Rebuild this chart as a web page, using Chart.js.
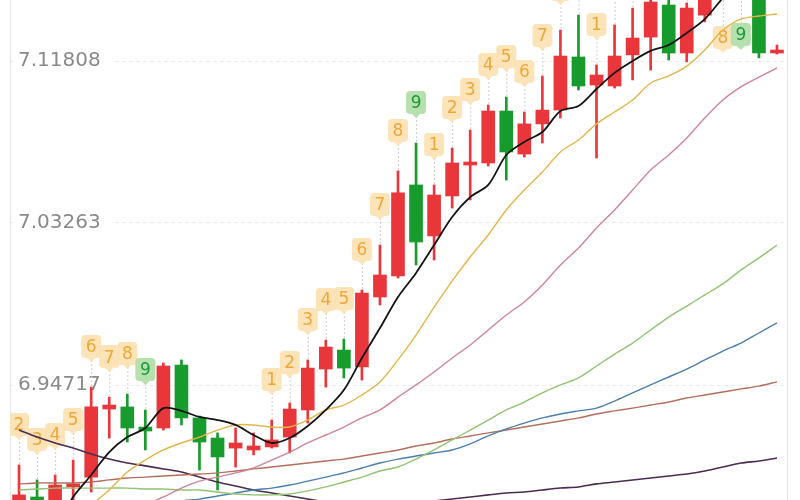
<!DOCTYPE html>
<html>
<head>
<meta charset="utf-8">
<script src="https://cdn.jsdelivr.net/npm/chart.js@4.4.1/dist/chart.umd.min.js"></script>
<style>
  html, body { margin: 0; padding: 0; background: #fff; }
  #wrap { width: 800px; height: 500px; }
</style>
</head>
<body>
<div id="wrap"><canvas id="chart" width="800" height="500"></canvas></div>
<script>
// candles, oldest first
const opens  = [6.8812, 6.8881, 6.8839, 6.8934, 6.8986, 6.9345, 6.9356, 6.9250, 6.9245, 6.9577, 6.9298, 6.9192, 6.9139, 6.9129, 6.9145, 6.9197, 6.9340, 6.9556, 6.9656, 6.9567, 6.9936, 7.0047, 7.0527, 7.0258, 7.0469, 7.0632, 7.0643, 7.0917, 7.0690, 7.0849, 7.0922, 7.1202, 7.1054, 7.1049, 7.1213, 7.1307, 7.1476, 7.1223, 7.1423, 7.1582, 7.1714, 7.1661, 7.1223];
const closes = [6.8892, 6.8812, 6.8944, 6.8950, 6.9356, 6.9366, 6.9245, 6.9229, 6.9572, 6.9298, 6.9171, 6.9092, 6.9166, 6.9150, 6.9182, 6.9345, 6.9561, 6.9672, 6.9561, 6.9957, 7.0052, 7.0485, 7.0226, 7.0474, 7.0643, 7.0648, 7.0917, 7.0701, 7.0849, 7.0922, 7.1207, 7.1049, 7.1107, 7.1207, 7.1302, 7.1492, 7.1223, 7.1460, 7.1555, 7.1714, 7.1566, 7.1223, 7.1234];
const highs  = [6.9050, 6.8971, 6.8997, 6.9076, 6.9461, 6.9408, 6.9424, 6.9340, 6.9588, 6.9604, 6.9308, 6.9219, 6.9245, 6.9219, 6.9287, 6.9377, 6.9604, 6.9709, 6.9714, 6.9973, 7.0210, 7.0601, 7.0748, 7.0527, 7.0722, 7.0817, 7.0949, 7.0991, 7.0912, 7.1102, 7.1344, 7.1423, 7.1160, 7.1371, 7.1460, 7.1529, 7.1518, 7.1487, 7.1608, 7.1766, 7.1793, 7.1714, 7.1265];
const lows   = [6.8786, 6.8786, 6.8812, 6.8839, 6.8907, 6.9192, 6.9171, 6.9129, 6.9234, 6.9261, 6.9023, 6.8918, 6.9039, 6.9103, 6.9139, 6.9113, 6.9271, 6.9461, 6.9509, 6.9498, 6.9894, 7.0036, 7.0105, 7.0131, 7.0405, 7.0448, 7.0627, 7.0553, 7.0674, 7.0748, 7.0880, 7.1028, 7.0669, 7.1038, 7.1081, 7.1133, 7.1186, 7.1176, 7.1387, 7.1513, 7.1529, 7.1197, 7.1218];

// TD sequential counts shown above the candles
const tdCount = ['2','3','4','5','6','7','8','9','','','','','','','1','2','3','4','5','6','7','8','9','1','2','3','4','5','6','7','8','9','1','2','3','4','5','6','7','8','9','',''];

// moving averages
const ma5   = [null, null, 6.8707, 6.8881, 6.8997, 6.9118, 6.9197, 6.9245, 6.9350, 6.9335, 6.9303, 6.9287, 6.9261, 6.9208, 6.9166, 6.9192, 6.9255, 6.9340, 6.9445, 6.9614, 6.9772, 6.9936, 7.0063, 7.0210, 7.0358, 7.0463, 7.0527, 7.0685, 7.0754, 7.0806, 7.0917, 7.0943, 7.1033, 7.1118, 7.1181, 7.1234, 7.1265, 7.1329, 7.1402, 7.1513, 7.1608, 7.1661, 7.1703];
const ma10  = [null, null, null, null, 6.8839, 6.8918, 6.9013, 6.9076, 6.9129, 6.9166, 6.9197, 6.9234, 6.9261, 6.9261, 6.9250, 6.9250, 6.9287, 6.9340, 6.9366, 6.9419, 6.9488, 6.9604, 6.9735, 6.9883, 7.0020, 7.0147, 7.0263, 7.0395, 7.0500, 7.0595, 7.0701, 7.0764, 7.0849, 7.0912, 7.0975, 7.1065, 7.1102, 7.1154, 7.1239, 7.1344, 7.1402, 7.1418, 7.1429];
const ma20  = [null, null, null, null, null, null, null, 6.8839, 6.8881, 6.8928, 6.8965, 6.8986, 6.9008, 6.9034, 6.9076, 6.9118, 6.9166, 6.9208, 6.9250, 6.9298, 6.9340, 6.9408, 6.9472, 6.9540, 6.9614, 6.9683, 6.9762, 6.9841, 6.9910, 6.9999, 7.0105, 7.0194, 7.0300, 7.0395, 7.0500, 7.0606, 7.0685, 7.0775, 7.0880, 7.0975, 7.1044, 7.1096, 7.1144];
const ma30  = [6.8918, 6.8923, 6.8928, 6.8928, 6.8928, 6.8928, 6.8928, 6.8923, 6.8923, 6.8918, 6.8918, 6.8907, 6.8897, 6.8892, 6.8892, 6.8897, 6.8913, 6.8934, 6.8960, 6.8986, 6.9018, 6.9039, 6.9081, 6.9129, 6.9182, 6.9234, 6.9287, 6.9340, 6.9382, 6.9430, 6.9472, 6.9509, 6.9572, 6.9635, 6.9693, 6.9762, 6.9830, 6.9888, 6.9947, 7.0005, 7.0078, 7.0142, 7.0210];
const ma60  = [null, null, null, null, null, null, null, null, 6.8844, 6.8860, 6.8870, 6.8886, 6.8902, 6.8918, 6.8928, 6.8944, 6.8965, 6.8986, 6.9008, 6.9034, 6.9060, 6.9081, 6.9097, 6.9113, 6.9129, 6.9161, 6.9203, 6.9240, 6.9271, 6.9298, 6.9319, 6.9335, 6.9350, 6.9387, 6.9430, 6.9472, 6.9514, 6.9556, 6.9604, 6.9651, 6.9693, 6.9746, 6.9799];
const ma120 = [6.8950, 6.8955, 6.8955, 6.8955, 6.8960, 6.8971, 6.8981, 6.8986, 6.8992, 6.8997, 6.9002, 6.9008, 6.9018, 6.9029, 6.9039, 6.9050, 6.9060, 6.9071, 6.9081, 6.9097, 6.9113, 6.9129, 6.9150, 6.9166, 6.9187, 6.9203, 6.9219, 6.9234, 6.9250, 6.9266, 6.9282, 6.9298, 6.9319, 6.9335, 6.9350, 6.9366, 6.9382, 6.9403, 6.9419, 6.9435, 6.9451, 6.9466, 6.9488];
const ma250 = [6.9234, 6.9197, 6.9166, 6.9139, 6.9108, 6.9081, 6.9060, 6.9045, 6.9029, 6.9013, 6.8986, 6.8960, 6.8939, 6.8918, 6.8902, 6.8886, 6.8870, 6.8855, 6.8844, 6.8839, 6.8839, 6.8844, 6.8849, 6.8860, 6.8870, 6.8881, 6.8892, 6.8902, 6.8907, 6.8918, 6.8928, 6.8934, 6.8950, 6.8960, 6.8971, 6.8981, 6.8992, 6.9002, 6.9018, 6.9039, 6.9060, 6.9071, 6.9087];

// price axis
const yTicks = [6.94717, 7.03263, 7.11808];
const yMin = 6.88651;
const yMax = 7.15026;

const UP = '#e8363b';
const DOWN = '#169b2c';

const days = opens.map((_, i) => String(i + 1));
const candleColors = opens.map((o, i) => closes[i] >= o ? UP : DOWN);

const tdPlugin = {
    id: 'tdCount',
    beforeDatasetsDraw(chart) {
        const { ctx, chartArea, scales: { x, y } } = chart;
        ctx.save();
        ctx.beginPath();
        ctx.rect(chartArea.left, chartArea.top, chartArea.right - chartArea.left, chartArea.bottom - chartArea.top);
        ctx.clip();
        ctx.font = '17px "DejaVu Sans"';
        ctx.textAlign = 'center';
        ctx.textBaseline = 'middle';
        tdCount.forEach((n, i) => {
            if (!n) {
                return;
            }
            const cx = x.getPixelForValue(i);
            const yHigh = y.getPixelForValue(highs[i]);
            const yLow = y.getPixelForValue(lows[i]);
            // candle above the visible range: the badge hangs below it
            const below = yLow < chartArea.top;
            const cy = below ? yLow + 40 : yHigh - 40;

            ctx.setLineDash([2, 2]);
            ctx.strokeStyle = '#cfcfcf';
            ctx.lineWidth = 1;
            ctx.beginPath();
            if (below) {
                ctx.moveTo(cx + 0.5, cy - 12);
                ctx.lineTo(cx + 0.5, yLow);
            } else {
                ctx.moveTo(cx + 0.5, cy + 13);
                ctx.lineTo(cx + 0.5, yHigh);
            }
            ctx.stroke();
            ctx.setLineDash([]);

            const nine = n === '9';
            ctx.fillStyle = nine ? 'rgba(176, 222, 168, 0.92)' : 'rgba(253, 225, 178, 0.92)';
            ctx.beginPath();
            ctx.roundRect(cx - 10, cy - 12, 20, 23, 4);
            ctx.fill();
            ctx.beginPath();
            ctx.moveTo(cx - 4, cy + 11);
            ctx.lineTo(cx, cy + 15);
            ctx.lineTo(cx + 4, cy + 11);
            ctx.fill();

            ctx.fillStyle = nine ? '#1b9a36' : '#f0a73a';
            ctx.fillText(n, cx, cy + 1);
        });
        ctx.restore();
    }
};

const framePlugin = {
    id: 'frame',
    beforeDatasetsDraw(chart) {
        const { ctx, chartArea } = chart;
        ctx.save();
        ctx.strokeStyle = '#e6e6e6';
        ctx.lineWidth = 1;
        ctx.beginPath();
        ctx.moveTo(chartArea.left + 0.5, chartArea.top);
        ctx.lineTo(chartArea.left + 0.5, chartArea.bottom);
        ctx.moveTo(chartArea.right + 1.5, chartArea.top);
        ctx.lineTo(chartArea.right + 1.5, chartArea.bottom);
        ctx.stroke();
        ctx.restore();
    }
};

function maLine(label, data, color, width, order) {
    return {
        type: 'line',
        label: label,
        data: data,
        borderColor: color,
        borderWidth: width,
        pointRadius: 0,
        tension: 0.3,
        fill: false,
        order: order
    };
}

new Chart(document.getElementById('chart'), {
    type: 'bar',
    data: {
        labels: days,
        datasets: [
            maLine('MA5', ma5, '#141414', 1.8, 0),
            maLine('MA10', ma10, '#e4b548', 1.4, 1),
            maLine('MA20', ma20, '#cf8597', 1.4, 1),
            maLine('MA30', ma30, '#91c472', 1.4, 1),
            maLine('MA60', ma60, '#4c7fae', 1.4, 1),
            maLine('MA120', ma120, '#b3705e', 1.4, 1),
            maLine('MA250', ma250, '#4b2b52', 1.6, 1),
            {
                label: 'body',
                data: opens.map((o, i) => [o, closes[i]]),
                backgroundColor: candleColors,
                barThickness: 13,
                minBarLength: 3,
                grouped: false,
                order: 2
            },
            {
                label: 'wick',
                data: lows.map((l, i) => [l, highs[i]]),
                backgroundColor: candleColors,
                barThickness: 2,
                grouped: false,
                order: 3
            }
        ]
    },
    options: {
        responsive: false,
        animation: false,
        layout: { padding: { left: 10, right: 14, top: 0, bottom: 0 } },
        plugins: {
            legend: { display: false },
            tooltip: { enabled: false }
        },
        scales: {
            x: { display: false },
            y: {
                min: yMin,
                max: yMax,
                afterFit(scale) {
                    // labels sit inside the plot, so the axis takes no room
                    scale.width = 0;
                    scale.paddingTop = 0;
                    scale.paddingBottom = 0;
                },
                afterBuildTicks(scale) {
                    scale.ticks = yTicks.map(v => ({ value: v }));
                },
                grid: { color: '#ebebeb', drawTicks: false },
                border: { display: false, dash: [4, 3] },
                ticks: {
                    mirror: true,
                    padding: 8,
                    color: '#8a8a8a',
                    font: { family: 'DejaVu Sans', size: 20 },
                    callback: v => v.toFixed(5),
                    showLabelBackdrop: true,
                    backdropColor: '#ffffff',
                    backdropPadding: { top: 2, bottom: 2, left: 2, right: 12 }
                }
            }
        }
    },
    plugins: [framePlugin, tdPlugin]
});
</script>
</body>
</html>
